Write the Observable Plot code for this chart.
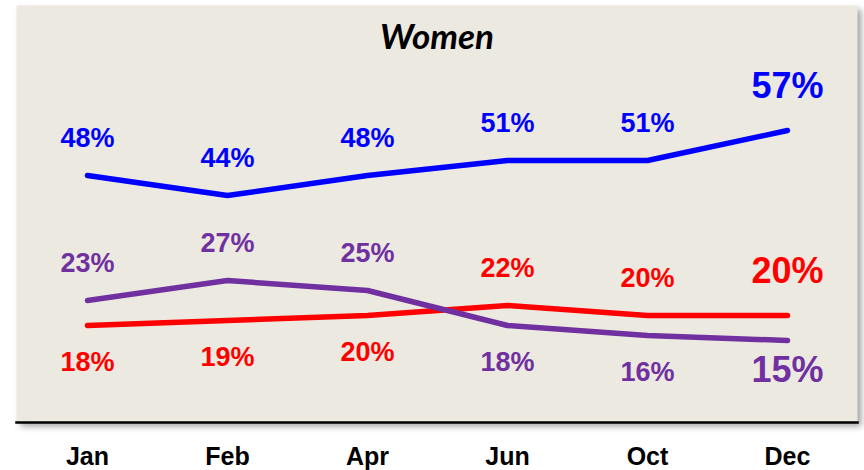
<!DOCTYPE html>
<html>
<head>
<meta charset="utf-8">
<script src="https://cdn.jsdelivr.net/npm/d3@7"></script>
<script src="https://cdn.jsdelivr.net/npm/@observablehq/plot@0.6"></script>
<style>
  html, body { margin: 0; padding: 0; background: #fff; }
  #chart svg { display: block; }
</style>
</head>
<body>
<div id="chart"></div>
<script>
const title = "Women";
const months = ["Jan", "Feb", "Apr", "Jun", "Oct", "Dec"];
const seriesKeys = ["line1", "line2", "line3"];
const seriesColors = ["#0000FF", "#FF0000", "#7030A0"];
const blueValues = [48, 44, 48, 51, 51, 57];
const redValues = [18, 19, 20, 22, 20, 20];
const purpleValues = [23, 27, 25, 18, 16, 15];

const valuesBySeries = { line1: blueValues, line2: redValues, line3: purpleValues };

const rows = [];
seriesKeys.forEach(s => {
  valuesBySeries[s].forEach((v, i) => {
    const atMonth = seriesKeys.map(k => valuesBySeries[k][i]);
    const lowest = Math.min(...atMonth);
    rows.push({
      series: s,
      month: months[i],
      value: v,
      label: v + "%",
      below: v === lowest,
      last: i === months.length - 1
    });
  });
});

const labelFont = "'Liberation Sans', Arial, sans-serif";
const common = { x: "month", y: "value", text: "label", fill: "series", fontWeight: "bold", fontFamily: labelFont, lineAnchor: "middle" };

const chart = Plot.plot({
  width: 864,
  height: 470,
  marginLeft: 16,
  marginRight: 7,
  marginTop: 5,
  marginBottom: 48,
  style: { fontFamily: labelFont, background: "#fff", overflow: "visible" },
  x: { type: "point", domain: months, range: [86, 788], padding: 0, label: null },
  y: { domain: [0, 83], range: [415, 0], axis: null },
  color: { type: "ordinal", domain: seriesKeys, range: seriesColors },
  marks: [
    Plot.frame({ fill: "#ECEAE0", stroke: "none" }),
    Plot.frame({ anchor: "bottom", stroke: "#000", strokeWidth: 2.5 }),
    Plot.axisX({ tickSize: 0, tickPadding: 25, fontSize: 25, fontWeight: "bold", fill: "#000" }),
    Plot.text([title], { frameAnchor: "top", lineAnchor: "middle", dy: 32, fontSize: 35, fontWeight: "bold", fontStyle: "italic", fontFamily: "Lato, 'Open Sans', sans-serif", fill: "#000" }),
    Plot.line(rows, { x: "month", y: "value", z: "series", stroke: "series", strokeWidth: 5.5, strokeLinecap: "round", strokeLinejoin: "round" }),
    Plot.text(rows.filter(d => !d.below && !d.last), { ...common, dy: -37, fontSize: 27 }),
    Plot.text(rows.filter(d => d.below && !d.last), { ...common, dy: 37, fontSize: 27 }),
    Plot.text(rows.filter(d => !d.below && d.last), { ...common, dy: -44, fontSize: 36 }),
    Plot.text(rows.filter(d => d.below && d.last), { ...common, dy: 30, fontSize: 36 })
  ]
});

const frameG = chart.querySelector('[aria-label="frame"]');
if (frameG) frameG.style.filter = "drop-shadow(4px 4px 3px rgba(0,0,0,0.35))";

document.getElementById("chart").appendChild(chart);
</script>
</body>
</html>
